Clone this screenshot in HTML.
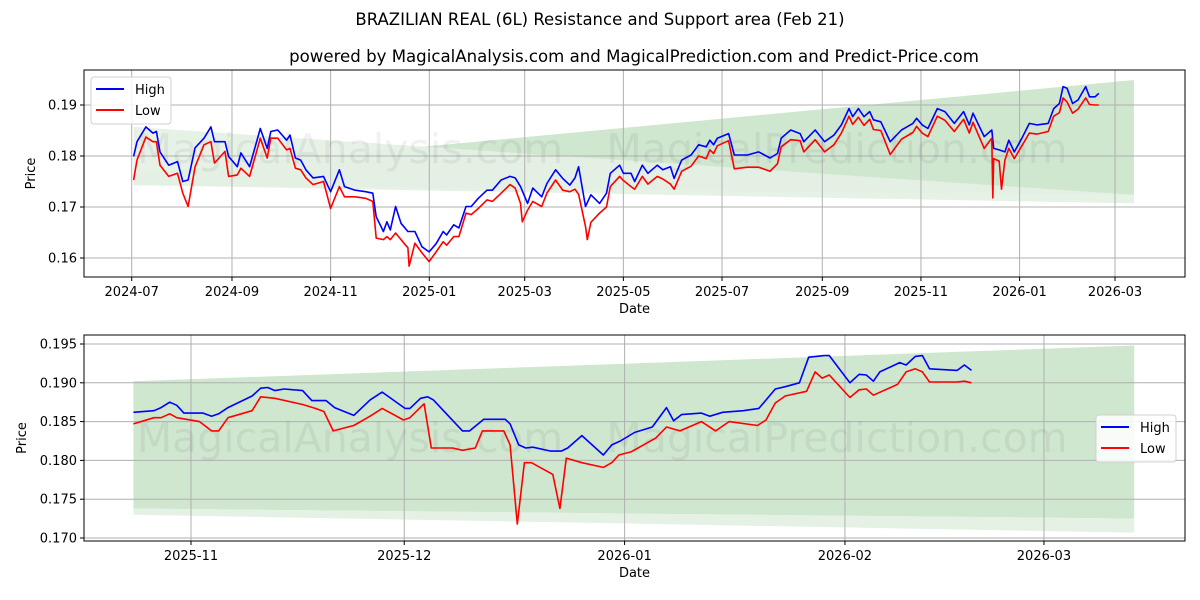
<!DOCTYPE html>
<html><head><meta charset="utf-8"><style>
body{margin:0;background:#fff;}
svg{display:block;font-family:"DejaVu Sans","Liberation Sans",sans-serif;}
</style></head><body>
<svg id="chart" width="1200" height="600" viewBox="0 0 1200 600" xmlns="http://www.w3.org/2000/svg">
<rect width="1200" height="600" fill="#fff"/>
<text x="600" y="25" font-size="16.5" text-anchor="middle">BRAZILIAN REAL (6L) Resistance and Support area (Feb 21)</text>
<text x="634" y="62" font-size="16.6" text-anchor="middle">powered by MagicalAnalysis.com and MagicalPrediction.com and Predict-Price.com</text>
</svg>
<script>
// ---------- TOP CHART DATA ----------
const topHighDays=[1.2,3.3,8.8,13.1,15.3,17.5,22.9,28.3,31.6,34.9,39.2,44.7,49.0,51.2,57.7,59.9,65.3,67.5,72.9,79.5,83.8,86.0,90.3,95.8,97.9,101.2,104.5,107.7,112.1,118.6,123.0,128.4,131.6,138.2,144.7,149.1,151.2,155.6,157.8,159.9,163.2,166.5,170.8,175.1,179.5,183.9,188.2,192.6,194.7,199.1,202.3,206.7,209.9,214.3,219.7,223.0,228.4,233.9,237.1,240.4,244.8,248.0,253.5,256.7,262.1,266.5,270.9,274.1,276.3,280.6,283.9,289.3,293.6,295.9,301.7,304.0,308.7,311.0,315.7,319.2,325.0,328.4,333.1,335.4,340.1,345.9,350.5,355.2,357.5,359.8,362.1,369.1,372.6,380.7,387.7,394.7,399.3,401.6,407.5,413.3,415.6,422.6,428.4,434.2,438.8,443.5,445.8,449.3,452.8,456.3,458.6,463.2,469.0,476.0,483.0,485.3,488.8,492.3,498.1,502.8,508.6,514.4,517.9,520.2,527.1,531.8,533.0,536.4,539.9,542.3,545.7,550.4,555.0,559.7,566.7,570.1,573.6,575.9,578.3,581.8,585.2,589.9,592.2,595.7,598.0];
const topHigh=[0.1799,0.1828,0.1857,0.1845,0.1848,0.1808,0.1782,0.1789,0.1750,0.1753,0.1816,0.1835,0.1857,0.1828,0.1828,0.1799,0.1779,0.1806,0.1779,0.1854,0.1815,0.1848,0.1851,0.1831,0.1841,0.1796,0.1792,0.1773,0.1757,0.1760,0.1730,0.1773,0.1740,0.1733,0.1730,0.1727,0.1681,0.1652,0.1671,0.1655,0.1701,0.1668,0.1652,0.1652,0.1622,0.1612,0.1628,0.1652,0.1645,0.1665,0.1659,0.1701,0.1701,0.1717,0.1733,0.1733,0.1753,0.1760,0.1757,0.1740,0.1707,0.1737,0.1720,0.1746,0.1773,0.1756,0.1743,0.1757,0.1779,0.1701,0.1724,0.1707,0.1727,0.1766,0.1782,0.1766,0.1766,0.1750,0.1782,0.1766,0.1782,0.1773,0.1779,0.1756,0.1792,0.1802,0.1822,0.1818,0.1831,0.1822,0.1835,0.1844,0.1802,0.1802,0.1808,0.1796,0.1805,0.1835,0.1851,0.1844,0.1828,0.1851,0.1828,0.1841,0.1861,0.1893,0.1877,0.1893,0.1877,0.1887,0.1871,0.1867,0.1828,0.1851,0.1864,0.1874,0.1861,0.1854,0.1893,0.1887,0.1864,0.1887,0.1861,0.1884,0.1838,0.1851,0.1815,0.1812,0.1808,0.1831,0.1808,0.1835,0.1864,0.1861,0.1864,0.1893,0.1903,0.1936,0.1933,0.1903,0.1910,0.1936,0.1916,0.1916,0.1923];
const topLowDays=[1.2,3.3,8.8,13.1,15.3,17.5,22.9,28.3,31.6,34.9,39.2,44.7,49.0,51.2,57.7,59.9,65.3,67.5,72.9,79.5,
83.8,86.0,90.3,95.8,97.9,101.2,104.5,107.7,112.1,118.6,123.0,128.4,131.6,138.2,144.7,149.1,151.2,155.6,157.8,159.9,
163.2,166.5,170.8,171.5,175.1,179.5,183.9,188.2,192.6,194.7,199.1,202.3,206.7,209.9,214.3,219.7,223.0,228.4,233.9,237.1,
240.4,241.5,244.8,248.0,253.5,256.7,262.1,266.5,270.9,274.1,276.3,280.6,281.7,283.9,289.3,
293.6,295.9,301.7,304.0,308.7,311.0,315.7,319.2,325.0,328.4,333.1,335.4,340.1,345.9,350.5,355.2,357.5,359.8,362.1,369.1,
372.6,380.7,387.7,394.7,399.3,401.6,407.5,413.3,415.6,422.6,428.4,434.2,438.8,443.5,445.8,449.3,452.8,456.3,458.6,463.2,
469.0,476.0,483.0,485.3,488.8,492.3,498.1,502.8,508.6,514.4,517.9,520.2,527.1,531.8,532.4,533.0,536.4,537.8,539.9,542.3,
545.7,550.4,555.0,559.7,566.7,570.1,573.6,575.9,578.3,581.8,585.2,589.9,592.2,595.7,598.0];
const topLow=[0.1753,0.1792,0.1837,0.1828,0.1828,0.1782,0.1760,0.1766,0.1727,0.1701,0.1779,0.1822,0.1828,0.1786,0.1809,0.1760,0.1763,0.1776,0.1760,0.1835,
0.1796,0.1835,0.1835,0.1812,0.1815,0.1776,0.1773,0.1757,0.1744,0.1750,0.1697,0.1740,0.1720,0.1720,0.1717,0.1711,0.1639,0.1636,0.1642,0.1636,
0.1649,0.1636,0.1620,0.1584,0.1629,0.1610,0.1593,0.1612,0.1632,0.1625,0.1642,0.1642,0.1688,0.1685,0.1697,0.1714,0.1711,0.1727,0.1744,0.1737,
0.1707,0.1671,0.1694,0.1711,0.1701,0.1727,0.1753,0.1733,0.1730,0.1735,0.1725,0.1662,0.1636,0.1670,0.1688,
0.1700,0.1740,0.1760,0.1752,0.1740,0.1735,0.1760,0.1745,0.1760,0.1755,0.1745,0.1735,0.1770,0.1780,0.1800,0.1795,0.1812,0.1805,0.1820,0.1830,
0.1775,0.1778,0.1778,0.1770,0.1785,0.1818,0.1832,0.1830,0.1808,0.1832,0.1808,0.1822,0.1845,0.1878,0.1862,0.1876,0.1860,0.1872,0.1852,0.1850,
0.1803,0.1833,0.1846,0.1858,0.1845,0.1838,0.1878,0.1870,0.1848,0.1872,0.1845,0.1866,0.1815,0.1835,0.1718,0.1795,0.1790,0.1735,0.1792,0.1815,
0.1795,0.1820,0.1845,0.1843,0.1848,0.1878,0.1885,0.1914,0.1906,0.1884,0.1892,0.1914,0.1901,0.1900,0.1900];
const topBandDays=[1.2,619.7];
const topBandATop=[0.1765,0.1949], topBandABot=[0.1743,0.1724];
const topBandBTop=[0.1857,0.1724], topBandBBot=[0.1743,0.1707];
const topYTicks=[0.16,0.17,0.18,0.19];
const topXTickDays=[0,62,123,184,243,304,365,427,488,549,608];
const topXTickLabels=["2024-07","2024-09","2024-11","2025-01","2025-03","2025-05","2025-07","2025-09","2025-11","2026-01","2026-03"];

// ---------- BOTTOM CHART DATA ----------
const botHighDays=[-8.1,-5.2,-4.2,-3.0,-2.0,-1.0,1.7,2.9,3.9,5.2,8.6,9.8,10.8,11.8,13.1,15.7,17.0,19.0,20.2,22.9,25.2,26.9,30.1,30.8,32.3,33.3,34.1,38.2,39.2,41.2,44.2,44.9,46.1,47.1,48.1,50.6,52.1,53.0,55.0,58.0,59.2,60.4,62.4,64.9,66.9,67.9,69.0,71.8,73.0,74.8,77.7,79.9,82.2,83.6,85.6,86.9,89.1,89.8,92.7,94.0,95.0,96.0,96.9,99.7,100.6,101.9,102.9,103.9,107.8,108.8,109.8];
const botHigh=[0.1862,0.1864,0.1868,0.1875,0.1871,0.1861,0.1861,0.1857,0.1860,0.1868,0.1883,0.1893,0.1894,0.1890,0.1892,0.1890,0.1877,0.1877,0.1868,0.1858,0.1878,0.1888,0.1867,0.1867,0.1880,0.1882,0.1878,0.1838,0.1838,0.1853,0.1853,0.1847,0.1820,0.1816,0.1817,0.1812,0.1812,0.1816,0.1832,0.1807,0.1820,0.1825,0.1836,0.1843,0.1868,0.1851,0.1859,0.1861,0.1857,0.1862,0.1864,0.1867,0.1892,0.1895,0.1900,0.1933,0.1935,0.1935,0.1900,0.1911,0.1910,0.1902,0.1914,0.1926,0.1923,0.1934,0.1935,0.1918,0.1916,0.1923,0.1916];
const botLowDays=[-8.1,-5.2,-4.2,-3.0,-2.0,1.2,2.9,3.9,5.2,8.6,9.8,11.8,15.7,17.5,18.7,20.0,22.9,25.2,26.9,29.9,30.8,32.8,33.8,36.8,38.2,40.0,41.0,44.0,44.9,45.9,46.9,47.9,50.9,51.9,52.8,55.0,58.0,59.2,60.2,61.9,65.4,66.9,68.8,71.8,73.8,75.7,79.7,80.9,82.2,83.6,86.6,87.8,88.8,89.8,92.7,94.0,95.0,96.0,99.4,100.6,101.9,102.9,103.9,107.8,108.8,109.8];
const botLow=[0.1847,0.1855,0.1855,0.1860,0.1855,0.1850,0.1838,0.1838,0.1855,0.1864,0.1882,0.1880,0.1872,0.1867,0.1863,0.1838,0.1845,0.1857,0.1867,0.1852,0.1855,0.1873,0.1816,0.1816,0.1813,0.1816,0.1838,0.1838,0.1820,0.1718,0.1797,0.1797,0.1782,0.1738,0.1803,0.1797,0.1791,0.1797,0.1807,0.1811,0.1829,0.1843,0.1838,0.1850,0.1838,0.1850,0.1845,0.1852,0.1874,0.1883,0.1889,0.1914,0.1906,0.1910,0.1881,0.1891,0.1892,0.1884,0.1898,0.1914,0.1918,0.1914,0.1901,0.1901,0.1902,0.1900];
const botBandDays=[-8.1,132.7];
const botBandATop=[0.1902,0.1948], botBandABot=[0.1738,0.1725];
const botBandBTop=[0.1738,0.1725], botBandBBot=[0.1730,0.1707];
const botYTicks=[0.170,0.175,0.180,0.185,0.190,0.195];
const botXTickDays=[0,30,61,92,120];
const botXTickLabels=["2025-11","2025-12","2026-01","2026-02","2026-03"];

const NS="http://www.w3.org/2000/svg";
const svg=document.getElementById('chart');
function mk(tag,attrs,parent){const e=document.createElementNS(NS,tag);for(const k in attrs)e.setAttribute(k,attrs[k]);(parent||svg).appendChild(e);return e;}

function drawPanel(cfg){
  const g=mk('g',{});
  
  
  const X=d=>cfg.x0+(d-cfg.d0)*cfg.pxPerDay;
  const Y=v=>cfg.yRef+(cfg.vRef-v)*cfg.pxPerUnit;
  const L=cfg.left,R=cfg.right,T=cfg.top,B=cfg.bottom;
  const bd=cfg.bandDays;
  const bandA=mk('polygon',{points:`${X(bd[0])},${Y(cfg.aTop[0])} ${X(bd[1])},${Y(cfg.aTop[1])} ${X(bd[1])},${Y(cfg.aBot[1])} ${X(bd[0])},${Y(cfg.aBot[0])}`,fill:'#cfe6cf'},g);
  
  
  const bandB=mk('polygon',{points:`${X(bd[0])},${Y(cfg.bTop[0])} ${X(bd[1])},${Y(cfg.bTop[1])} ${X(bd[1])},${Y(cfg.bBot[1])} ${X(bd[0])},${Y(cfg.bBot[0])}`,fill:'#e4f1e4',opacity:cfg.bOpacity},g);
  
  
  cfg.yTicks.forEach(v=>{
    const ln=mk('line',{x1:L,x2:R,y1:Y(v),y2:Y(v),stroke:'#b0b0b0','stroke-width':1},g);
    
    
    mk('line',{x1:L-4,x2:L,y1:Y(v),y2:Y(v),stroke:'#000'},g);
    const t=mk('text',{x:L-7,y:Y(v)+4.5,'font-size':13,'text-anchor':'end'},g);
    t.textContent=cfg.yFmt(v);
    
    
  });
  cfg.xTicks.forEach((d,i)=>{
    const ln=mk('line',{x1:X(d),x2:X(d),y1:T,y2:B,stroke:'#b0b0b0','stroke-width':1},g);
    
    
    mk('line',{x1:X(d),x2:X(d),y1:B,y2:B+4,stroke:'#000'},g);
    const t=mk('text',{x:X(d),y:B+19,'font-size':13,'text-anchor':'middle'},g);
    t.textContent=cfg.xLabels[i];
    
    
  });
  cfg.wm.forEach(w=>{
    const t=mk('text',{x:w[0],y:w[1],'font-size':41,fill:'#000','fill-opacity':0.055,'text-anchor':'middle'},g);
    t.textContent=w[2];
    
    
  });
  const path=(days,vals)=>days.map((d,i)=>(i?'L':'M')+X(d).toFixed(1)+','+Y(vals[i]).toFixed(1)).join(' ');
  const hi=mk('path',{d:path(cfg.hDays,cfg.hVals),fill:'none',stroke:'#0000ff','stroke-width':1.6,'stroke-linejoin':'round'},g);
  
  
  const lo=mk('path',{d:path(cfg.lDays,cfg.lVals),fill:'none',stroke:'#ff0000','stroke-width':1.6,'stroke-linejoin':'round'},g);
  
  
  const fr=mk('rect',{x:L,y:T,width:R-L,height:B-T,fill:'none',stroke:'#000','stroke-width':1},g);
  
  
  const xt=mk('text',{x:(L+R)/2,y:B+36,'font-size':13,'text-anchor':'middle'},g);
  xt.textContent='Date';
  
  
  const yt=mk('text',{x:0,y:0,'font-size':13,'text-anchor':'middle',transform:`translate(${cfg.yTitleX},${(T+B)/2}) rotate(-90)`},g);
  yt.textContent='Price';
  
  
  const lg=mk('g',{transform:`translate(${cfg.legX},${cfg.legY})`},g);
  
  
  mk('rect',{x:0,y:0,width:80,height:47,rx:3,fill:'#fff','fill-opacity':0.85,stroke:'#d0d0d0'},lg);
  [['High','#0000ff',16],['Low','#ff0000',37]].forEach(e=>{
    const en=mk('g',{},lg);
    
    
    mk('line',{x1:5,x2:33,y1:e[2]-4,y2:e[2]-4,stroke:e[1],'stroke-width':2},en);
    const t=mk('text',{x:44,y:e[2]+1,'font-size':13},en);
    t.textContent=e[0];
  });
}

drawPanel({name:'top-chart',left:84,right:1185,top:70,bottom:277,
  x0:131.7,d0:0,pxPerDay:1.6173,yRef:105,vRef:0.19,pxPerUnit:5100,
  bandDays:topBandDays,aTop:topBandATop,aBot:topBandABot,bTop:topBandBTop,bBot:topBandBBot,bOpacity:0.9,
  yTicks:topYTicks,yFmt:v=>v.toFixed(2),xTicks:topXTickDays,xLabels:topXTickLabels,
  hDays:topHighDays,hVals:topHigh,lDays:topLowDays,lVals:topLow,
  wm:[[350,163,'MagicalAnalysis.com'],[837,163,'MagicalPrediction.com']],
  yTitleX:35,legX:91,legY:77});
drawPanel({name:'bottom-chart',left:84,right:1185,top:335,bottom:541,
  x0:191,d0:0,pxPerDay:7.108,yRef:344,vRef:0.195,pxPerUnit:7760,
  bandDays:botBandDays,aTop:botBandATop,aBot:botBandABot,bTop:botBandBTop,bBot:botBandBBot,bOpacity:1,
  yTicks:botYTicks,yFmt:v=>v.toFixed(3),xTicks:botXTickDays,xLabels:botXTickLabels,
  hDays:botHighDays,hVals:botHigh,lDays:botLowDays,lVals:botLow,
  wm:[[350,452,'MagicalAnalysis.com'],[837,452,'MagicalPrediction.com']],
  yTitleX:26,legX:1096,legY:415});
</script>
</body></html>
